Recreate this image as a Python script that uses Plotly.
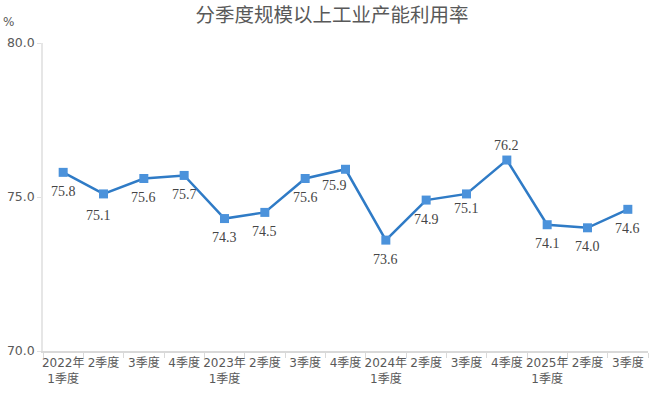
import plotly.graph_objects as go

categories = ["2022年<br>1季度", "2季度", "3季度", "4季度",
              "2023年<br>1季度", "2季度", "3季度", "4季度",
              "2024年<br>1季度", "2季度", "3季度", "4季度",
              "2025年<br>1季度", "2季度", "3季度"]
values = [75.8, 75.1, 75.6, 75.7, 74.3, 74.5, 75.6, 75.9, 73.6, 74.9, 75.1, 76.2, 74.1, 74.0, 74.6]

# label placement tweaks (pixel shifts relative to each point): index -> (xshift, yshift)
label_shift_default = (0, -19)
label_shift_special = {1: (-5, -22), 7: (-11, -16), 10: (0, -15), 11: (0, 15)}

x_idx = list(range(len(categories)))

fig = go.Figure()
fig.add_trace(go.Scatter(
    x=x_idx, y=values, mode="lines+markers",
    line=dict(color="#2F7BC6", width=2.5),
    marker=dict(symbol="square", size=9, color="#4B92DB"),
    hoverinfo="skip", showlegend=False,
))

for xi, v in zip(x_idx, values):
    dx, dy = label_shift_special.get(xi, label_shift_default)
    fig.add_annotation(
        x=xi, y=v, xref="x", yref="y", text=f"{v:.1f}", showarrow=False,
        xshift=dx, yshift=dy,
        font=dict(family="Liberation Serif, serif", size=14, color="#454545"),
    )

fig.add_annotation(x=-0.07, y=1.068, xref="paper", yref="paper", text="%", showarrow=False,
                   xanchor="left", yanchor="middle",
                   font=dict(family="DejaVu Sans", size=12, color="#595959"))

fig.update_layout(
    width=664, height=395,
    margin=dict(l=43, r=16, t=43, b=44),
    paper_bgcolor="white", plot_bgcolor="white",
    title=dict(text="分季度规模以上工业产能利用率", x=0.5, xanchor="center", y=0.962, yanchor="middle",
               font=dict(family="Noto Sans CJK SC", size=19.5, color="#595959")),
    font=dict(family="DejaVu Sans, Noto Sans CJK SC", size=12, color="#595959"),
)
fig.update_xaxes(
    tickmode="array", tickvals=x_idx, ticktext=categories,
    range=[-0.5, len(categories) - 0.5], automargin=False,
    showgrid=False, zeroline=False, showline=True, linecolor="#D9D9D9", linewidth=1.5,
    ticks="", tickfont=dict(family="DejaVu Sans, Noto Sans CJK SC", size=12, color="#595959"),
    minor=dict(tickvals=[i - 0.5 for i in range(len(categories) + 1)], ticks="outside",
               ticklen=5, tickcolor="#D9D9D9", tickwidth=1),
)
fig.update_yaxes(
    range=[70, 80], dtick=5, tick0=70, tickformat=".1f", automargin=False,
    showgrid=False, zeroline=False, showline=True, linecolor="#E6E6E6", linewidth=1.5,
    ticks="outside", ticklen=4, tickcolor="#E0E0E0",
    tickfont=dict(family="DejaVu Sans", size=12.5, color="#595959"),
)

fig.write_html("out.html", config={"displayModeBar": False},
               post_script="document.body.style.margin='0';document.body.style.padding='0';")
